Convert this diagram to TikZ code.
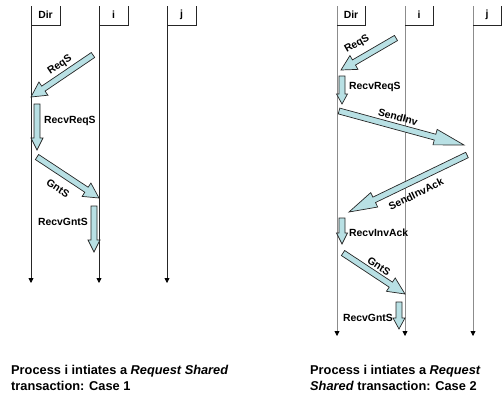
\documentclass[tikz,border=0pt]{standalone}
\usepackage{fontspec}
\setmainfont{Liberation Sans}
\usetikzlibrary{calc,arrows.meta}
\definecolor{afill}{HTML}{B8E0E4}
\definecolor{lgray}{HTML}{8C8C8C}
\newcommand\barrow[5]{%
  \coordinate (tmpC) at ($(#2)!#5!(#1)$);
  \draw[blockarr] ($(#1)!#3!90:(#2)$) -- ($(tmpC)!#3!90:(#2)$) -- ($(tmpC)!#4!90:(#2)$)
    -- (#2) -- ($(tmpC)!#4!-90:(#2)$) -- ($(tmpC)!#3!-90:(#2)$) -- ($(#1)!#3!-90:(#2)$) -- cycle;}
\begin{document}
\begin{tikzpicture}[x=1pt,y=-1pt,
  blockarr/.style={draw=black!85,fill=afill,line width=0.7pt,line join=miter},
  life/.style={line width=0.8pt,-{Triangle[width=5pt,length=5pt,color=black]}},
  lbl/.style={font=\fontsize{10.4}{12}\selectfont\bfseries,inner sep=0pt},
  captxt/.style={font=\fontsize{12.8}{16.5}\selectfont\bfseries,inner sep=0pt,align=left,anchor=north west}]
\useasboundingbox (0,0) rectangle (503,397);
% ---------- left diagram ----------
\foreach \n/\x/\y/\t in {ld/31/283/Dir, li/99/283/i, lj/167/283/j}{
  \coordinate (\n top) at (\x,6);
  \coordinate (\n end) at (\x,\y);
  \draw[life,black!85] (\n top) -- (\n end);
  \draw[black!85,line width=0.8pt] (\x,25) -- (\x+29,25) -- (\x+29,6);
  \node[lbl] (\n lab) at (\x+14.5,14.5) {\t};
}
\coordinate (a1s) at (93,55);  \coordinate (a1e) at (31,97);
\coordinate (a2s) at (37,104); \coordinate (a2e) at (37,150);
\coordinate (a3s) at (37,157); \coordinate (a3e) at (99,198);
\coordinate (a4s) at (94,206); \coordinate (a4e) at (94,252);
\barrow{a1s}{a1e}{3pt}{8pt}{15pt}
\barrow{a2s}{a2e}{3pt}{6pt}{12pt}
\barrow{a3s}{a3e}{3pt}{8pt}{15pt}
\barrow{a4s}{a4e}{3pt}{6pt}{12pt}
\node[lbl,rotate=34] (t1) at (60,65) {ReqS};
\node[lbl,anchor=west] (t2) at (44,121) {RecvReqS};
\node[lbl,rotate=-33.5] (t3) at (58,188) {GntS};
\node[lbl,anchor=east] (t4) at (88,222) {RecvGntS};
\node[captxt] (c1) at (11,365) {Process i intiates a \textit{Request Shared}\\transaction: Case 1};
% ---------- right diagram ----------
\foreach \n/\x/\y/\t in {rd/337/336/Dir, ri/405/336/i, rj/473/336/j}{
  \coordinate (\n top) at (\x,6);
  \coordinate (\n end) at (\x,\y);
  \draw[life,lgray] (\n top) -- (\n end);
  \draw[black!85,line width=0.8pt] (\x,25) -- (\x+28,25) -- (\x+28,6);
  \node[lbl] (\n lab) at (\x+14,14.5) {\t};
}
\coordinate (b1s) at (396,38);    \coordinate (b1e) at (341,70);
\coordinate (b2s) at (342,76);    \coordinate (b2e) at (342,104);
\coordinate (b3s) at (339,111);   \coordinate (b3e) at (464,145);
\coordinate (b4s) at (467,155);   \coordinate (b4e) at (349,212);
\coordinate (b5s) at (342,218);   \coordinate (b5e) at (342,244);
\coordinate (b6s) at (343,253);   \coordinate (b6e) at (405,294);
\coordinate (b7s) at (399,302);   \coordinate (b7e) at (399,329);
\barrow{b1s}{b1e}{3pt}{8pt}{15pt}
\barrow{b2s}{b2e}{3pt}{5.5pt}{10pt}
\barrow{b3s}{b3e}{3pt}{8pt}{30pt}
\barrow{b4s}{b4e}{3pt}{8pt}{28pt}
\barrow{b5s}{b5e}{3pt}{5.5pt}{11pt}
\barrow{b6s}{b6e}{3pt}{8pt}{17pt}
\barrow{b7s}{b7e}{3pt}{6pt}{11pt}
\node[lbl,rotate=30] (u1) at (357,44) {ReqS};
\node[lbl,anchor=west] (u2) at (349,87) {RecvReqS};
\node[lbl,rotate=-15] (u3) at (398,117) {SendInv};
\node[lbl,rotate=26] (u4) at (416,194) {SendInvAck};
\node[lbl,anchor=west] (u5) at (349,233) {RecvInvAck};
\node[lbl,rotate=-33.5] (u6) at (379,266) {GntS};
\node[lbl,anchor=east] (u7) at (393,318) {RecvGntS};
\node[captxt] (c2) at (310,365) {Process i intiates a \textit{Request}\\\textit{Shared} transaction: Case 2};
\end{tikzpicture}
\end{document}
